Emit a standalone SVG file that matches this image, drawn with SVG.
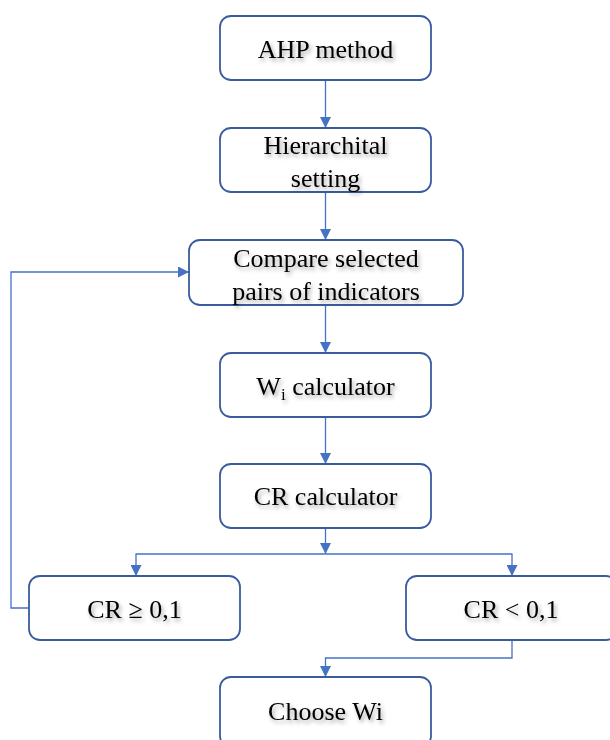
<svg xmlns="http://www.w3.org/2000/svg" width="610" height="740" viewBox="0 0 610 740">
<defs>
<filter id="ts" x="-20%" y="-40%" width="140%" height="180%">
<feGaussianBlur in="SourceAlpha" stdDeviation="2"/>
<feOffset dx="2" dy="3" result="b"/>
<feComponentTransfer in="b" result="s"><feFuncA type="linear" slope="0.35"/></feComponentTransfer>
<feMerge><feMergeNode in="s"/><feMergeNode in="SourceGraphic"/></feMerge>
</filter>
<marker id="ah" viewBox="0 0 10 10" refX="10" refY="5" markerWidth="11" markerHeight="11" markerUnits="userSpaceOnUse" orient="auto">
<path d="M0,0 L10,5 L0,10 z" fill="#4472C4"/>
</marker>
<style>
.box{fill:#fff;stroke:#3A5C9E;stroke-width:1.8}
.t{font-family:"Liberation Serif","Times New Roman",serif;font-size:26px;fill:#000;text-anchor:middle}
.c{fill:none;stroke:#4472C4;stroke-width:1.3;marker-end:url(#ah)}
</style>
</defs>
<rect width="610" height="740" fill="#fff"/>
<g id="connectors">
<path class="c" d="M325.5,81 V128"/>
<path class="c" d="M325.5,192 V240"/>
<path class="c" d="M325.5,305 V353"/>
<path class="c" d="M325.5,417 V464"/>
<path class="c" d="M325.5,528 V554"/>
<path class="c" d="M325.5,554 H136 V576"/>
<path class="c" d="M325.5,554 H512 V576"/>
<path class="c" d="M29,608 H11 V272 H189"/>
<path class="c" d="M512,640 V658 H325.5 V677"/>
</g>
<g id="ahp"><rect class="box" x="220" y="16" width="211" height="64" rx="11"/><text class="t" x="325.5" y="58" filter="url(#ts)">AHP method</text></g>
<g id="hier"><rect class="box" x="220" y="128" width="211" height="64" rx="11"/><text class="t" x="325.5" y="154" filter="url(#ts)">Hierarchital</text><text class="t" x="325.5" y="187" filter="url(#ts)">setting</text></g>
<g id="compare"><rect class="box" x="189" y="240" width="274" height="65" rx="11"/><text class="t" x="326" y="267" filter="url(#ts)">Compare selected</text><text class="t" x="326" y="300" filter="url(#ts)">pairs of indicators</text></g>
<g id="wi"><rect class="box" x="220" y="353" width="211" height="64" rx="11"/><text class="t" x="325.5" y="395" filter="url(#ts)">W<tspan font-size="17" dy="5">i</tspan><tspan dy="-5"> calculator</tspan></text></g>
<g id="cr"><rect class="box" x="220" y="464" width="211" height="64" rx="11"/><text class="t" x="325.5" y="505" filter="url(#ts)">CR calculator</text></g>
<g id="crge"><rect class="box" x="29" y="576" width="211" height="64" rx="11"/><text class="t" x="134.5" y="618" filter="url(#ts)">CR ≥ 0,1</text></g>
<g id="crlt"><rect class="box" x="406" y="576" width="211" height="64" rx="11"/><text class="t" x="511" y="618" filter="url(#ts)">CR &lt; 0,1</text></g>
<g id="choose"><rect class="box" x="220" y="677" width="211" height="70" rx="11"/><text class="t" x="325.5" y="720" filter="url(#ts)">Choose Wi</text></g>
</svg>
